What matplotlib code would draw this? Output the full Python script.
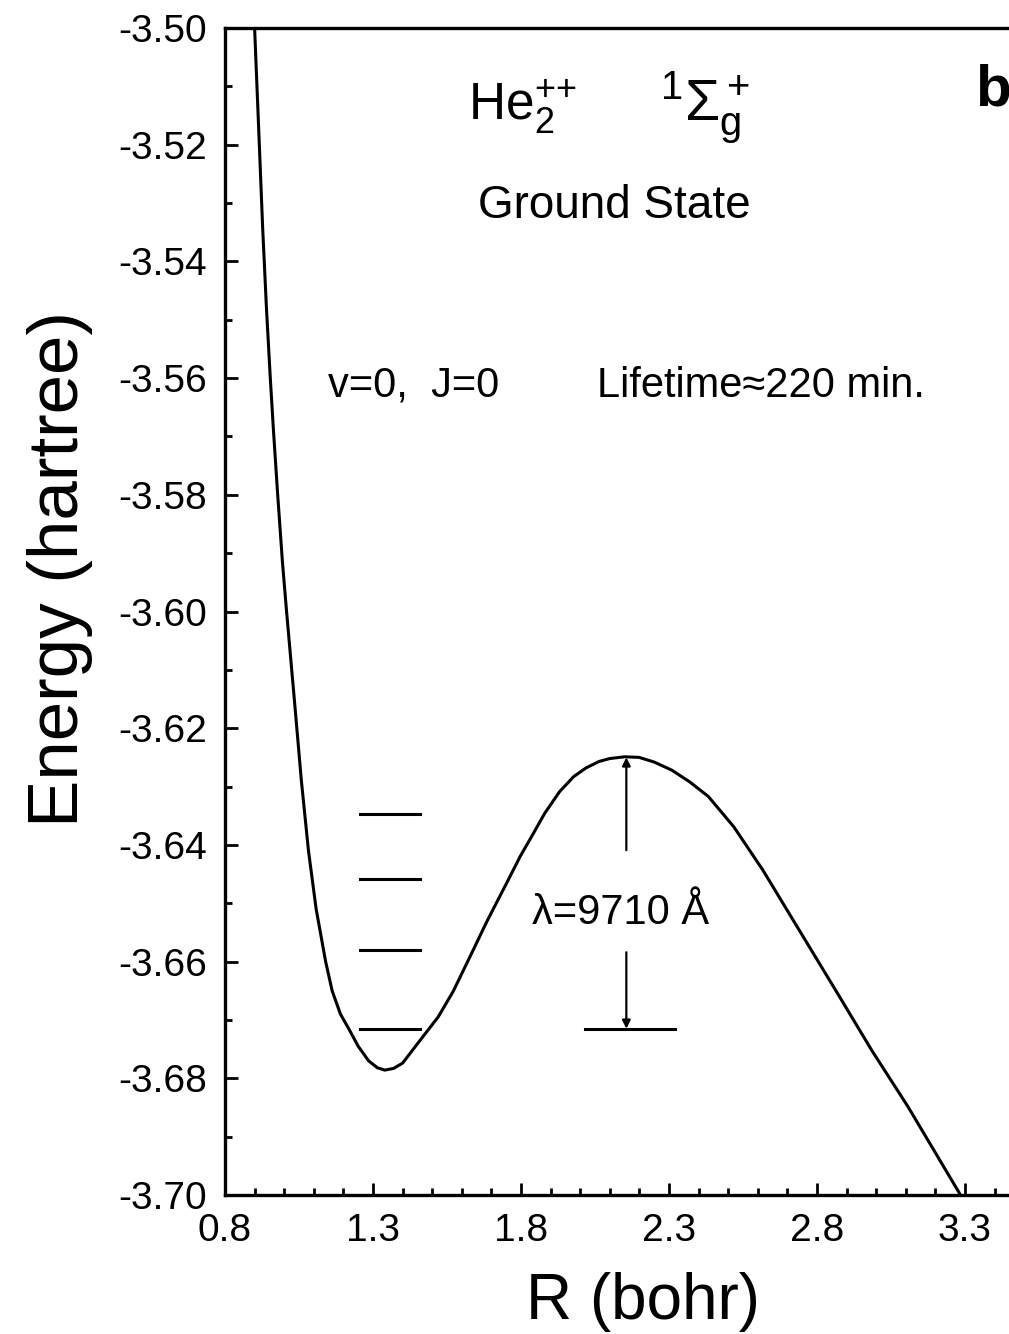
import numpy as np
import matplotlib
matplotlib.use("Agg")
import matplotlib.pyplot as plt
from matplotlib.ticker import MultipleLocator, FormatStrFormatter

plt.rcParams['font.family'] = ['Liberation Sans', 'DejaVu Sans']
plt.rcParams['mathtext.fontset'] = 'custom'
plt.rcParams['mathtext.rm'] = 'Liberation Sans'
plt.rcParams['mathtext.it'] = 'Liberation Sans:italic'
plt.rcParams['mathtext.bf'] = 'Liberation Sans:bold'

# potential curve of the ground state, R in bohr, E in hartree
R_curve = [0.900, 0.915, 0.927, 0.940, 0.953, 0.964, 0.978, 0.994, 1.008,
           1.036, 1.058, 1.082, 1.108, 1.140, 1.162, 1.190, 1.218, 1.250,
           1.285, 1.315, 1.340, 1.370, 1.400, 1.459, 1.520, 1.571, 1.634,
           1.684, 1.757, 1.797, 1.840, 1.880, 1.930, 1.978, 2.020, 2.064,
           2.100, 2.150, 2.199, 2.250, 2.310, 2.370, 2.433, 2.519, 2.617,
           2.740, 2.863, 2.985, 3.108, 3.285]
E_curve = [-3.5000, -3.5188, -3.5340, -3.5480, -3.5600, -3.5692, -3.5800,
           -3.5915, -3.6000, -3.6161, -3.6290, -3.6410, -3.6510, -3.6600,
           -3.6650, -3.6690, -3.6715, -3.6745, -3.6770, -3.6782, -3.6786,
           -3.6783, -3.6774, -3.6735, -3.6695, -3.6651, -3.6585, -3.6532,
           -3.6460, -3.6420, -3.6382, -3.6346, -3.6309, -3.6283, -3.6268,
           -3.6257, -3.6252, -3.6249, -3.6250, -3.6258, -3.6272, -3.6292,
           -3.6317, -3.6369, -3.6443, -3.6546, -3.6649, -3.6752, -3.6849,
           -3.7000]

# vibrational levels in the well
level_E = [-3.6347, -3.6459, -3.6580, -3.6715]
level_R = [1.256, 1.459]

# barrier top and the v=0 reference bar
peak_R = 2.156
peak_E = -3.6250
bar_R = [2.015, 2.322]
gap_E = [-3.6409, -3.6584]   # ends of the arrow shafts around the label

x_ticks = [0.8, 1.3, 1.8, 2.3, 2.8, 3.3]
x_minor = [0.8 + 0.1 * i for i in range(27)]

fig = plt.figure(figsize=(10.09, 13.34), dpi=100)
ax = fig.add_axes([0.223, 0.1042, 0.792, 0.8748])

ax.plot(R_curve, E_curve, color='black', lw=2.2, solid_joinstyle='round')

for e in level_E:
    ax.plot(level_R, [e, e], color='black', lw=2.2)

ax.plot(bar_R, [level_E[-1], level_E[-1]], color='black', lw=2.2)
ax.annotate('', xy=(peak_R, peak_E), xytext=(peak_R, gap_E[0]),
            arrowprops=dict(arrowstyle='-|>', lw=1.6, color='black',
                            mutation_scale=12, shrinkA=0, shrinkB=0))
ax.annotate('', xy=(peak_R, level_E[-1]), xytext=(peak_R, gap_E[1]),
            arrowprops=dict(arrowstyle='-|>', lw=1.6, color='black',
                            mutation_scale=12, shrinkA=0, shrinkB=0))
ax.text(2.138, -3.6535, 'λ=9710 Å', fontsize=30, ha='center', va='baseline')

ax.text(1.62, -3.5158, r'He$_2^{{+}{+}}$', fontsize=37, ha='left', va='baseline')
ax.text(2.27, -3.5158, r'$^1\Sigma_\mathrm{g}^+$', fontsize=41, ha='left',
        va='baseline')
ax.text(2.114, -3.5326, 'Ground State', fontsize=33, ha='center', va='baseline')
ax.text(1.148, -3.5632, 'v=0,  J=0', fontsize=30, ha='left', va='baseline')
ax.text(2.057, -3.5632, 'Lifetime≈220 min.', fontsize=30, ha='left', va='baseline')
ax.text(3.335, -3.5132, 'b', fontsize=42, fontweight='bold', ha='left',
        va='baseline', clip_on=False)

ax.set_xlim(0.8, 3.5)
ax.set_ylim(-3.70, -3.50)
ax.set_xticks(x_ticks)
ax.set_xticks(x_minor, minor=True)
ax.yaxis.set_major_locator(MultipleLocator(0.02))
ax.yaxis.set_minor_locator(MultipleLocator(0.01))
ax.xaxis.set_major_formatter(FormatStrFormatter('%.1f'))
ax.yaxis.set_major_formatter(FormatStrFormatter('%.2f'))

ax.tick_params(which='both', direction='in', top=False, right=False,
               width=2.0, labelsize=28, pad=13)
ax.tick_params(which='major', length=9)
ax.tick_params(which='minor', length=5)

for s in ['left', 'bottom', 'top']:
    ax.spines[s].set_linewidth(2.4)
ax.spines['right'].set_visible(False)

ax.set_xlabel('R (bohr)', fontsize=46)
ax.xaxis.set_label_coords(0.523, -0.066)
ax.set_ylabel('Energy (hartree)', fontsize=51)
ax.yaxis.set_label_coords(-0.165, 0.536)

fig.savefig('out.png', dpi=100, facecolor='white')
